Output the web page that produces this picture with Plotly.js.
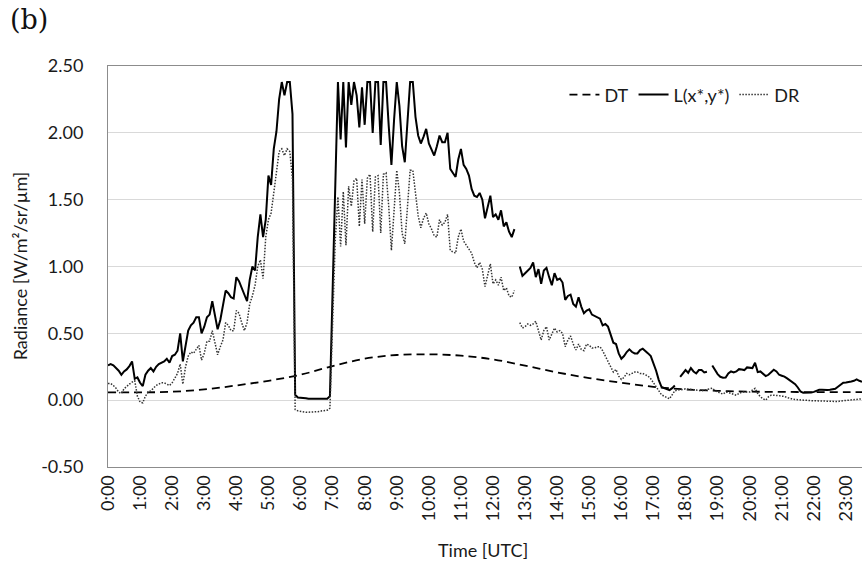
<!DOCTYPE html>
<html>
<head>
<meta charset="utf-8">
<script src="https://cdn.plot.ly/plotly-3.0.1.min.js"></script>
<style>html,body{margin:0;padding:0;background:#fff;}#chart{width:863px;height:565px;}</style>
</head>
<body>
<div id="chart"></div>
<script>
// Sampling step of the L and DR series (minutes); one row = one hour (0:00 ... 23:30)
const stepMinutes = 5;

// L(x*,y*) radiance, 5-minute samples (null = no data)
const lValues = [
  0.26, 0.27, 0.26, 0.24, 0.22, 0.19, 0.215, 0.23, 0.255, 0.29, 0.16, 0.17,
  0.13, 0.105, 0.19, 0.22, 0.24, 0.215, 0.25, 0.27, 0.28, 0.29, 0.31, 0.28,
  0.33, 0.34, 0.37, 0.50, 0.29, 0.42, 0.52, 0.56, 0.58, 0.62, 0.62, 0.50,
  0.55, 0.62, 0.64, 0.74, 0.64, 0.53, 0.60, 0.70, 0.82, 0.80, 0.77, 0.76,
  0.92, 0.89, 0.84, 0.79, 0.74, 0.90, 1.00, 0.97, 1.22, 1.39, 1.22, 1.35,
  1.68, 1.61, 1.88, 2.01, 2.25, 2.38, 2.28, 2.38, 2.38, 2.14, 0.04, 0.02,
  0.02, 0.015, 0.015, 0.01, 0.01, 0.005, 0.005, 0.005, 0.01, 0.005, 0.01, 0.03,
  0.79, 1.55, 2.38, 1.95, 2.38, 1.89, 2.38, 2.21, 2.38, 2.28, 2.04, 2.34,
  2.06, 2.38, 2.38, 2.00, 2.38, 2.38, 1.91, 2.38, 2.38, 2.05, 1.76, 2.10,
  2.38, 2.20, 1.90, 1.78, 2.10, 2.38, 2.38, 2.12, 1.98, 1.92, 1.97, 2.03,
  1.92, 1.88, 1.83, 1.90, 1.98, 1.93, 1.93, 2.00, 1.73, 1.70, 1.67, 1.80,
  1.88, 1.76, 1.73, 1.68, 1.58, 1.53, 1.52, 1.55, 1.50, 1.36, 1.45, 1.53,
  1.37, 1.39, 1.35, 1.42, 1.30, 1.33, 1.26, 1.22, 1.28, null, 1.00, 0.93,
  0.95, 0.97, 0.99, 1.03, 0.92, 0.98, 0.87, 0.97, 0.99, 0.92, 0.86, 0.95,
  0.90, 0.91, 0.88, 0.75, 0.78, 0.79, 0.72, 0.70, 0.77, 0.70, 0.65, 0.67,
  0.68, 0.64, 0.63, 0.62, 0.61, 0.56, 0.57, 0.55, 0.49, 0.43, 0.42, 0.35,
  0.31, 0.33, 0.36, 0.38, 0.36, 0.35, 0.35, 0.375, 0.385, 0.37, 0.35, 0.33,
  0.28, 0.22, 0.15, 0.10, 0.09, 0.08, 0.075, 0.09, 0.11, null, 0.175, 0.20,
  0.225, 0.205, 0.24, 0.215, 0.20, 0.225, 0.225, 0.207, 0.212, null, 0.26, 0.225,
  0.195, 0.175, 0.168, 0.17, 0.20, 0.215, 0.207, 0.215, 0.232, 0.23, 0.225, 0.245,
  0.24, 0.24, 0.28, 0.21, 0.215, 0.20, 0.18, 0.19, 0.21, 0.228, 0.215, 0.19,
  0.183, 0.176, 0.163, 0.15, 0.135, 0.12, 0.095, 0.065, 0.055, 0.055, 0.055, 0.058,
  0.062, 0.07, 0.078, 0.078, 0.076, 0.076, 0.078, 0.08, 0.085, 0.10, 0.115, 0.13,
  0.133, 0.135, 0.14, 0.145, 0.155, 0.145, 0.137
];

// DR radiance, 5-minute samples (null = no data)
const drValues = [
  0.125, 0.125, 0.11, 0.09, 0.06, 0.05, 0.085, 0.105, 0.12, 0.135, 0.145, 0.03,
  -0.015, -0.02, 0.03, 0.06, 0.07, 0.09, 0.11, 0.12, 0.13, 0.13, 0.12, 0.11,
  0.13, 0.16, 0.20, 0.27, 0.12, 0.25, 0.33, 0.36, 0.35, 0.38, 0.41, 0.30,
  0.35, 0.44, 0.44, 0.52, 0.44, 0.34, 0.40, 0.45, 0.58, 0.56, 0.52, 0.52,
  0.67, 0.65, 0.58, 0.52, 0.58, 0.72, 0.78, 0.86, 1.00, 1.05, 0.91, 1.22,
  1.35, 1.40, 1.55, 1.71, 1.86, 1.88, 1.83, 1.88, 1.86, 1.65, -0.07, -0.08,
  -0.085, -0.085, -0.09, -0.09, -0.09, -0.09, -0.085, -0.085, -0.08, -0.08, -0.075, -0.06,
  0.55, 1.20, 1.52, 1.15, 1.56, 1.16, 1.60, 1.45, 1.64, 1.66, 1.30, 1.65,
  1.32, 1.66, 1.69, 1.26, 1.67, 1.68, 1.25, 1.69, 1.70, 1.45, 1.12, 1.40,
  1.72, 1.55, 1.25, 1.17, 1.45, 1.72, 1.72, 1.55, 1.38, 1.29, 1.36, 1.40,
  1.32, 1.28, 1.23, 1.22, 1.35, 1.31, 1.33, 1.39, 1.12, 1.11, 1.10, 1.22,
  1.28, 1.19, 1.16, 1.13, 1.10, 1.03, 0.99, 1.03, 0.98, 0.85, 0.93, 1.02,
  0.87, 0.90, 0.86, 0.92, 0.82, 0.84, 0.78, 0.77, 0.82, null, 0.58, 0.54,
  0.55, 0.57, 0.56, 0.57, 0.59, 0.52, 0.45, 0.52, 0.55, 0.45, 0.50, 0.54,
  0.51, 0.52, 0.50, 0.40, 0.45, 0.48, 0.42, 0.375, 0.42, 0.38, 0.37, 0.42,
  0.41, 0.39, 0.39, 0.40, 0.40, 0.37, 0.33, 0.29, 0.24, 0.21, 0.23, 0.18,
  0.155, 0.17, 0.20, 0.19, 0.20, 0.21, 0.21, 0.20, 0.20, 0.19, 0.18, 0.16,
  0.13, 0.10, 0.07, 0.04, 0.03, 0.02, 0.01, 0.04, 0.07, 0.075, 0.075, 0.08,
  0.085, 0.082, 0.08, 0.075, 0.072, 0.068, 0.07, 0.075, 0.08, 0.085, 0.09, 0.07,
  0.06, 0.05, 0.045, 0.06, 0.058, 0.05, 0.045, 0.037, 0.05, 0.06, 0.062, 0.062,
  0.062, 0.075, 0.088, 0.05, 0.025, 0.01, 0.0, 0.025, 0.037, 0.037, 0.037, 0.034,
  0.03, 0.028, 0.02, 0.012, 0.008, 0.005, 0.003, 0.0, -0.002, -0.004, -0.005, -0.005,
  -0.005, -0.005, -0.006, -0.006, -0.007, -0.008, -0.008, -0.01, -0.012, -0.01, -0.006, -0.004,
  -0.002, 0.0, 0.002, 0.004, 0.005, 0.008, 0.01
];

// DT radiance, read at hourly points (smooth curve)
const dtHours  = [0, 1, 2, 3, 4, 5, 6, 7, 8, 9, 10, 11, 12, 13, 14, 15, 16, 17, 18, 19, 20, 21, 22, 23, 23.5];
const dtValues = [0.058, 0.058, 0.063, 0.08, 0.11, 0.145, 0.19, 0.255, 0.31, 0.338, 0.343, 0.333, 0.305,
                  0.258, 0.208, 0.165, 0.13, 0.10, 0.08, 0.07, 0.064, 0.062, 0.06, 0.06, 0.06];

// Axis ticks
const hourTicks  = [0,1,2,3,4,5,6,7,8,9,10,11,12,13,14,15,16,17,18,19,20,21,22,23];
const hourLabels = ['0:00','1:00','2:00','3:00','4:00','5:00','6:00','7:00','8:00','9:00','10:00','11:00',
                    '12:00','13:00','14:00','15:00','16:00','17:00','18:00','19:00','20:00','21:00','22:00','23:00'];
const yTicks  = [-0.5, 0, 0.5, 1, 1.5, 2, 2.5];
const yLabels = ['-0.50','0.00','0.50','1.00','1.50','2.00','2.50'];

const seriesNames = ['DT', 'L(x*,y*)', 'DR'];
const xTitle = 'Time [UTC]';
const yTitle = 'Radiance [W/m²/sr/µm]';
const panelLabel = '(b)';

const sampleHours = lValues.map((_, i) => i * stepMinutes / 60);

const traces = [
  {x: dtHours, y: dtValues, name: seriesNames[0], type: 'scatter', mode: 'lines',
   line: {color: '#000', width: 1.8, dash: '8px,5px', shape: 'spline'}, hoverinfo: 'skip'},
  {x: sampleHours, y: lValues, name: seriesNames[1], type: 'scatter', mode: 'lines',
   line: {color: '#000', width: 2}, connectgaps: false, hoverinfo: 'skip'},
  {x: sampleHours, y: drValues, name: seriesNames[2], type: 'scatter', mode: 'lines',
   line: {color: '#333', width: 1.5, dash: '1.5px,1.5px'}, connectgaps: false, hoverinfo: 'skip'}
];

const textColor = '#1a1a1a';

const layout = {
  width: 863, height: 565,
  margin: {l: 108, r: 1, t: 66, b: 98},
  paper_bgcolor: '#fff', plot_bgcolor: '#fff',
  font: {family: 'Lato, "Open Sans", sans-serif', size: 18, color: textColor},
  showlegend: true,
  xaxis: {
    range: [0, 23.5], tickmode: 'array', tickvals: hourTicks, ticktext: hourLabels,
    tickangle: -90, showgrid: false, zeroline: false, ticks: '',
    showline: true, linecolor: '#8c8c8c', linewidth: 1, mirror: true,
    tickfont: {size: 18}, automargin: false
  },
  yaxis: {
    range: [-0.5, 2.5], tickmode: 'array', tickvals: yTicks, ticktext: yLabels,
    showgrid: true, gridcolor: '#d9d9d9', gridwidth: 1, zeroline: false, ticks: '',
    showline: true, linecolor: '#8c8c8c', linewidth: 1, mirror: false,
    ticklabelstandoff: 20, tickfont: {size: 18}, automargin: false
  },
  legend: {
    orientation: 'h', x: 0.925, xanchor: 'right', y: 0.928, yanchor: 'middle',
    bgcolor: 'rgba(0,0,0,0)', font: {size: 18}, itemwidth: 30, traceorder: 'normal'
  },
  annotations: [
    {text: panelLabel, xref: 'paper', yref: 'paper', x: -0.132, y: 1.115,
     xanchor: 'left', yanchor: 'middle', showarrow: false,
     font: {family: '"DejaVu Serif", serif', size: 27, color: '#111'}},
    {text: yTitle, xref: 'paper', yref: 'paper', x: -0.117, y: 0.5, textangle: -90,
     xanchor: 'center', yanchor: 'middle', showarrow: false, font: {size: 18}},
    {text: xTitle, xref: 'paper', yref: 'paper', x: 0.497, y: -0.207,
     xanchor: 'center', yanchor: 'middle', showarrow: false, font: {size: 18}}
  ]
};

Plotly.newPlot('chart', traces, layout, {staticPlot: true, displayModeBar: false});
</script>
</body>
</html>
